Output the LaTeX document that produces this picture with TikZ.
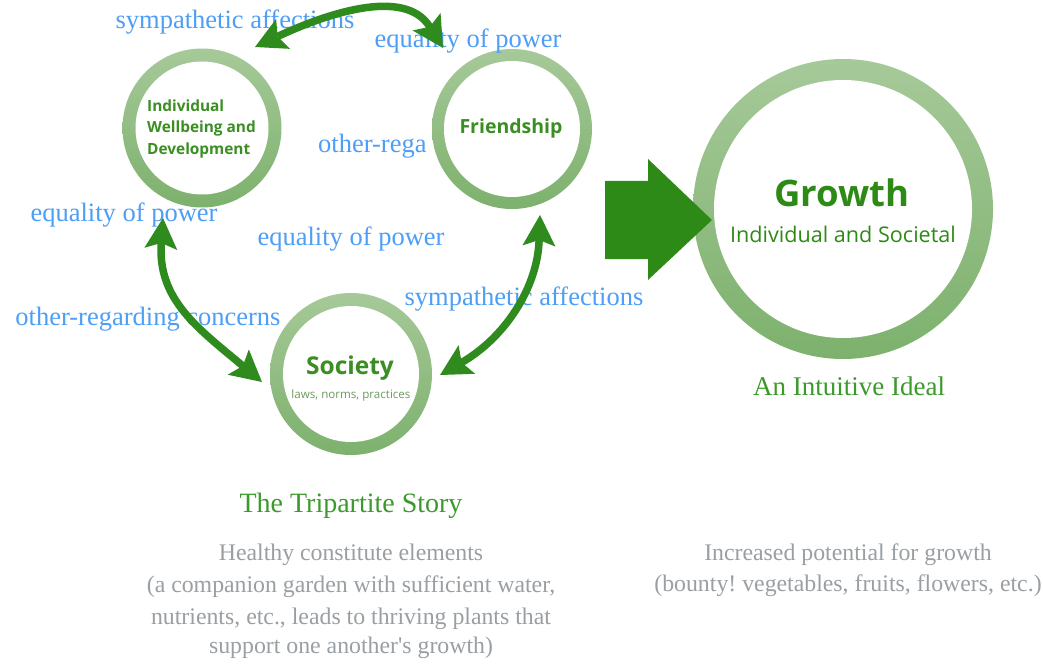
\documentclass[tikz,border=0pt]{standalone}
\usepackage{fontspec}
\setmainfont{Liberation Serif}
\newfontfamily\opensans{Open Sans}
\usetikzlibrary{arrows.meta}
\frenchspacing

\definecolor{ringtop}{HTML}{A6C999}
\definecolor{ringbot}{HTML}{7DB16D}
\definecolor{leaf}{HTML}{2E8A16}
\definecolor{vine}{HTML}{2F8B1E}
\definecolor{sky}{HTML}{4D9EF7}
\definecolor{stone}{HTML}{9A9FA3}
\definecolor{moss}{HTML}{3A9A2A}
\definecolor{ctext}{HTML}{3A8E22}
\definecolor{csub}{HTML}{6E9A5E}

\tikzset{
  ring/.style 2 args={circle, inner sep=0pt, minimum size=#1,
    top color=ringtop, bottom color=ringbot,
    path picture={\fill[white] (path picture bounding box.center) circle[radius=#2];}},
  lbl/.style={font=\fontsize{26.5}{30}\selectfont, text=sky, inner sep=0pt, anchor=base},
  story/.style={font=\fontsize{28}{32}\selectfont, text=moss, inner sep=0pt, anchor=base},
  note/.style={font=\fontsize{23.8}{31}\selectfont, text=stone, inner sep=0pt, anchor=base},
  intext/.style={font=\opensans\bfseries\fontsize{15.4}{18}\selectfont, text=ctext, inner sep=0pt, anchor=base west},
  vinetip/.tip={Stealth[length=31pt,width=33pt,inset=6pt,line width=0pt]},
  vinearrow/.style={draw=vine, line width=7.5pt, vinetip-vinetip},
}

\begin{document}
\begin{tikzpicture}[x=1pt,y=1pt]
\useasboundingbox (0,0) rectangle (1043,665);
\fill[white] (0,0) rectangle (1043,665);

% the three constituent rings and the growth ring
\node[ring={159pt}{66.5pt}] (ind) at (202,537) {};
\node[ring={160pt}{68pt}]   (fri) at (512,536) {};
\node[ring={162pt}{68pt}]   (soc) at (351,291) {};
\node[ring={300pt}{129pt}]  (gro) at (843,456) {};

% relation labels
\node[lbl] (l1) at (235,636) {sympathetic affections};
\node[lbl] (l2) at (468,617) {equality of power};
\node[lbl, anchor=base west] (l3) at (318,512) {other-rega};
\node[lbl] (l4) at (124,443) {equality of power};
\node[lbl] (l5) at (351,419) {equality of power};
\node[lbl] (l6) at (524,360) {sympathetic affections};
\node[lbl] (l7) at (148,340) {other-regarding concerns};

% two-way connectors between the rings
\draw[vinearrow] ([shift={(53,81)}]ind.center) to[out=25,in=122] ([shift={(-69,81)}]fri.center);
\draw[vinearrow] ([shift={(-39,-90)}]ind.center) to[out=266,in=140,looseness=1.1] ([shift={(-89,-8)}]soc.center);
\draw[vinearrow] ([shift={(28,-86)}]fri.center) to[out=268,in=30] ([shift={(89,-1)}]soc.center);

% block arrow into the growth ring
\fill[leaf] (605,406) -- (648,406) -- (648,385) -- (712,445) -- (648,506) -- (648,484) -- (605,484) -- cycle;

% ring texts
\node[intext] (t1) at (147,553) {Individual};
\node[intext] (t2) at (147,532) {Wellbeing and};
\node[intext] (t3) at (147,510) {Development};
\node[intext, anchor=base, font=\opensans\bfseries\fontsize{19.5}{22}\selectfont] (t4) at (511,531) {Friendship};
\node[intext, anchor=base, font=\opensans\bfseries\fontsize{24.5}{28}\selectfont] (t5) at (350,291) {Society};
\node[intext, anchor=base, text=csub, font=\opensans\fontsize{11.6}{14}\selectfont] (t6) at (351,267) {laws, norms, practices};
\node[intext, anchor=base, text=leaf, font=\opensans\bfseries\fontsize{36.5}{42}\selectfont] (t7) at (842,458) {Growth};
\node[intext, anchor=base, text=leaf, font=\opensans\fontsize{21.6}{25}\selectfont] (t8) at (843,422) {Individual and Societal};

% captions
\node[story] (c1) at (351,153) {The Tripartite Story};
\node[story, font=\fontsize{27}{31}\selectfont] (c2) at (849,270) {An Intuitive Ideal};
\node[note] (n1) at (351,105) {Healthy constitute elements};
\node[note] (n2) at (351,73) {(a companion garden with sufficient water,};
\node[note] (n3) at (351,41) {nutrients, etc., leads to thriving plants that};
\node[note] (n4) at (351,12) {support one another\textquotesingle s growth)};
\node[note] (n5) at (848,105) {Increased potential for growth};
\node[note] (n6) at (848,74) {(bounty! vegetables, fruits, flowers, etc.)};
\end{tikzpicture}
\end{document}
